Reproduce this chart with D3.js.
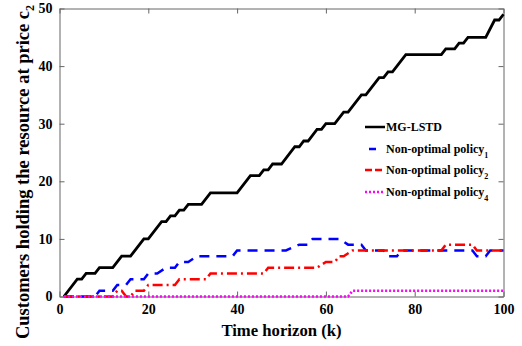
<!DOCTYPE html>
<html>
<head>
<meta charset="utf-8">
<script src="https://cdn.jsdelivr.net/npm/d3@7"></script>
<style>
  body { margin: 0; background: #fff; }
  svg text { font-family: 'Liberation Serif', 'Times New Roman', serif; font-weight: bold; fill: #000; }
</style>
</head>
<body>
<svg id="chart" width="522" height="346"></svg>
<script>
// values: [k, customers]
var mgLstd = [[1,0],[4,3],[5,3],[6,4],[8,4],[9,5],[12,5],[14,7],[16,7],[19,10],[20,10],[23,13],[24,13],[25,14],[26,14],[27,15],[28,15],[29,16],[32,16],[34,18],[40,18],[43,21],[45,21],[46,22],[47,22],[48,23],[50,23],[53,26],[54,26],[55,27],[56,27],[58,29],[59,29],[60,30],[62,30],[64,32],[65,32],[68,35],[69,35],[72,38],[73,38],[74,39],[75,39],[78,42],[86,42],[87,43],[89,43],[90,44],[91,44],[92,45],[96,45],[98,48],[99,48],[100,49]]
var policy1 = [[1,0],[8,0],[9,1],[12,1],[13,2],[15,2],[16,3],[19,3],[20,4],[22,4],[24,5],[26,5],[27,6],[29,6],[31,7],[39,7],[40,8],[51,8],[54,9],[56,9],[57,10],[63,10],[65,9],[68,9],[69,8],[73,8],[74,7],[76,7],[77,8],[93,8],[94,7],[96,7],[97,8],[100,8]]
var policy2 = [[1,0],[12,0],[13,1],[14,1],[15,0],[16,0],[17,1],[19,1],[20,2],[26,2],[27,3],[33,3],[34,4],[46,4],[47,5],[58,5],[60,6],[62,6],[63,7],[64,7],[66,8],[86,8],[87,9],[93,9],[94,8],[100,8]]
var policy4 = [[1,0],[65,0],[66,1],[100,1]]

var xTicks = [0, 20, 40, 60, 80, 100]
var yTicks = [0, 10, 20, 30, 40, 50]

var series = [
  { name: 'MG-LSTD', sub: '', data: mgLstd, color: '#000000', dash: null, legDash: null },
  { name: 'Non-optimal policy', sub: '1', data: policy1, color: '#0000ff', dash: '10,7', legDash: '0,4,7,20' },
  { name: 'Non-optimal policy', sub: '2', data: policy2, color: '#ff0000', dash: '10,4,2,4', legDash: '7,3,7,10' },
  { name: 'Non-optimal policy', sub: '4', data: policy4, color: '#ff00ff', dash: '2,2', legDash: '2,2' }
]

var svg = d3.select('#chart')
var mLeft = 59.5, mRight = 503.5, mTop = 8.5, mBottom = 296.5

var x = d3.scaleLinear().domain([0, 100]).range([mLeft, mRight])
var y = d3.scaleLinear().domain([0, 50]).range([mBottom, mTop])

// box + inward ticks on all sides
var axisColor = '#666'
svg.append('g').attr('transform', 'translate(0,' + mBottom + ')')
  .call(d3.axisBottom(x).tickValues(xTicks).tickSizeInner(-5).tickSizeOuter(0).tickPadding(8))
svg.append('g').attr('transform', 'translate(0,' + mTop + ')')
  .call(d3.axisTop(x).tickValues(xTicks).tickSizeInner(-5).tickSizeOuter(0).tickFormat(''))
svg.append('g').attr('transform', 'translate(' + mLeft + ',0)')
  .call(d3.axisLeft(y).tickValues(yTicks).tickSizeInner(-5).tickSizeOuter(0).tickPadding(7))
svg.append('g').attr('transform', 'translate(' + mRight + ',0)')
  .call(d3.axisRight(y).tickValues(yTicks).tickSizeInner(-5).tickSizeOuter(0).tickFormat(''))

svg.selectAll('.domain, .tick line').attr('stroke', axisColor)
svg.selectAll('.tick text').attr('font-size', '14px')
  .style('font-family', "'Liberation Serif', serif").style('font-weight', 'bold').attr('fill', '#000')

var line = d3.line().x(d => x(d[0])).y(d => y(d[1]))

series.forEach(s => {
  svg.append('path')
    .datum(s.data)
    .attr('fill', 'none')
    .attr('stroke', s.color)
    .attr('stroke-width', s.dash ? 2.5 : 2.8)
    .attr('stroke-dasharray', s.dash)
    .attr('d', line)
})

// axis titles
svg.append('text')
  .attr('x', (mLeft + mRight) / 2)
  .attr('y', 336)
  .attr('text-anchor', 'middle')
  .attr('font-size', '16.7px')
  .text('Time horizon (k)')

var yl = svg.append('text')
  .attr('transform', 'translate(29,172) rotate(-90)')
  .attr('text-anchor', 'middle')
  .attr('font-size', '18.5px')
yl.append('tspan').text('Customers holding the resource at price c')
yl.append('tspan').attr('font-size', '12px').attr('dy', 5).text('2')

// legend
var legY = [127, 149, 170, 192]
var lg = svg.append('g')
series.forEach((s, i) => {
  lg.append('line')
    .attr('x1', 365).attr('x2', 385)
    .attr('y1', legY[i]).attr('y2', legY[i])
    .attr('stroke', s.color)
    .attr('stroke-width', 2.5)
    .attr('stroke-dasharray', s.legDash)
  var t = lg.append('text')
    .attr('x', 386)
    .attr('y', legY[i] + 4)
    .attr('font-size', '12px')
  t.append('tspan').text(s.name)
  if (s.sub) t.append('tspan').attr('font-size', '8px').attr('dy', 5).text(s.sub)
})
</script>
</body>
</html>
